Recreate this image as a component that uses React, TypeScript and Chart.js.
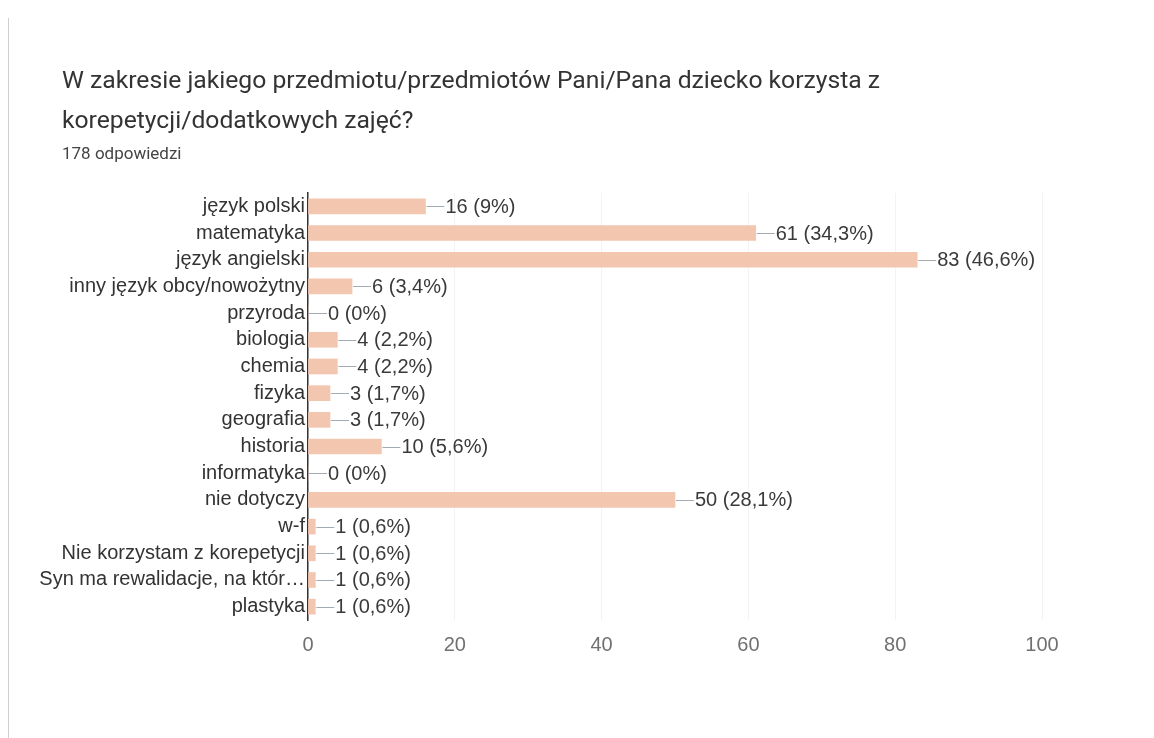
import React, { useEffect, useRef } from "react";
import { Chart, registerables } from "chart.js";

Chart.register(...registerables);

const categories: string[] = [
  "język polski",
  "matematyka",
  "język angielski",
  "inny język obcy/nowożytny",
  "przyroda",
  "biologia",
  "chemia",
  "fizyka",
  "geografia",
  "historia",
  "informatyka",
  "nie dotyczy",
  "w-f",
  "Nie korzystam z korepetycji",
  "Syn ma rewalidacje, na któr…",
  "plastyka",
];

const counts: number[] = [16, 61, 83, 6, 0, 4, 4, 3, 3, 10, 0, 50, 1, 1, 1, 1];

const percentLabels: string[] = [
  "9%", "34,3%", "46,6%", "3,4%", "0%", "2,2%", "2,2%", "1,7%", "1,7%",
  "5,6%", "0%", "28,1%", "0,6%", "0,6%", "0,6%", "0,6%",
];

const xTicks: number[] = [0, 20, 40, 60, 80, 100];

const titleText = "W zakresie jakiego przedmiotu/przedmiotów Pani/Pana dziecko korzysta z korepetycji/dodatkowych zajęć?";
const subtitleText = "178 odpowiedzi";

const labelFont = '"Liberation Sans", Arial, sans-serif';

const valueLabelPlugin = {
  id: "valueLabels",
  afterDatasetsDraw(chart: any) {
    const ctx = chart.ctx;
    const meta = chart.getDatasetMeta(0);
    ctx.save();
    meta.data.forEach((bar: any, i: number) => {
      const x = bar.x;
      const y = bar.y;
      ctx.strokeStyle = "#a3abb5";
      ctx.lineWidth = 1;
      ctx.beginPath();
      ctx.moveTo(x + 1, Math.round(y) + 0.5);
      ctx.lineTo(x + 19, Math.round(y) + 0.5);
      ctx.stroke();
      ctx.fillStyle = "#3a3a3a";
      ctx.font = `20px ${labelFont}`;
      ctx.textAlign = "left";
      ctx.textBaseline = "middle";
      ctx.fillText(`${counts[i]} (${percentLabels[i]})`, x + 20, y + 1);
    });
    ctx.restore();
  },
};

export default function App() {
  const canvasRef = useRef<HTMLCanvasElement | null>(null);

  useEffect(() => {
    if (!canvasRef.current) return;
    const chart = new Chart(canvasRef.current, {
      type: "bar",
      data: {
        labels: categories,
        datasets: [
          {
            data: counts,
            backgroundColor: "#f3c6b0",
            borderWidth: 0,
            barThickness: 15,
          },
        ],
      },
      options: {
        indexAxis: "y",
        responsive: false,
        animation: false,
        maintainAspectRatio: false,
        layout: { padding: { top: 193, bottom: 78, left: 0, right: 112 } },
        plugins: {
          legend: { display: false },
          tooltip: { enabled: false },
          title: { display: false },
        },
        scales: {
          x: {
            min: 0,
            max: 100,
            afterBuildTicks: (scale: any) => {
              scale.ticks = xTicks.map((v) => ({ value: v }));
            },
            afterFit: (scale: any) => {
              scale.height = 40;
              scale.paddingLeft = 0;
              scale.paddingRight = 0;
            },
            grid: { color: "#f3f3f3", drawTicks: false },
            border: { display: false },
            ticks: {
              padding: 13,
              color: "#707070",
              font: { family: labelFont, size: 20 },
            },
          },
          y: {
            afterFit: (scale: any) => {
              scale.width = 308;
              scale.paddingTop = 0;
              scale.paddingBottom = 0;
            },
            grid: { display: false, drawTicks: false },
            border: { display: true, color: "#333333", width: 1.5 },
            ticks: {
              padding: 3,
              color: "#333333",
              autoSkip: false,
              font: { family: labelFont, size: 20 },
            },
          },
        },
      },
      plugins: [valueLabelPlugin],
    });
    return () => chart.destroy();
  }, []);

  return (
    <div style={{ position: "fixed", left: 0, top: 0, width: 1154, height: 738, background: "#ffffff", overflow: "hidden" }}>
      <div style={{ position: "absolute", left: 8, top: 18, width: 1, height: 720, background: "#cfcfcf" }} />
      <canvas ref={canvasRef} width={1154} height={738} style={{ position: "absolute", left: 0, top: 0, width: 1154, height: 738 }} />
      <div
        style={{
          position: "absolute",
          left: 62,
          top: 60,
          width: 900,
          fontFamily: "Roboto, sans-serif",
          fontSize: 24.7,
          lineHeight: "40px",
          color: "#333333",
        }}
      >
        {titleText}
      </div>
      <div
        style={{
          position: "absolute",
          left: 62,
          top: 142,
          fontFamily: "Roboto, sans-serif",
          fontSize: 17,
          lineHeight: "22px",
          color: "#444444",
        }}
      >
        {subtitleText}
      </div>
    </div>
  );
}
